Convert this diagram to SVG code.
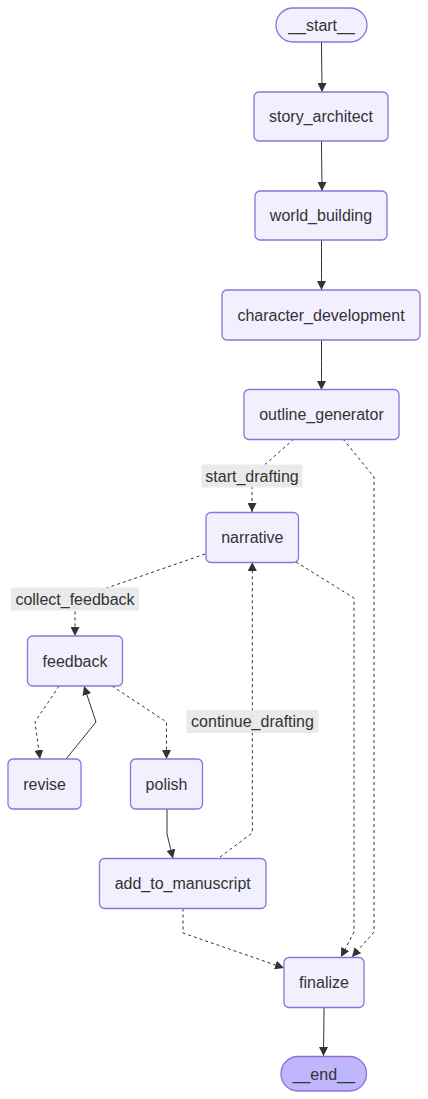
<svg xmlns="http://www.w3.org/2000/svg" width="428" height="1099" viewBox="0 0 428 1099">
  <defs>
    <marker id="arrow" viewBox="0 0 10 10" refX="10" refY="5" markerWidth="9" markerHeight="9" markerUnits="userSpaceOnUse" orient="auto">
      <path d="M0,0 L10,5 L0,10 z" fill="#333333"/>
    </marker>
    <style>
      .node rect { fill: #f2f0ff; stroke: #9370db; stroke-width: 1.3; }
      .node.terminal rect { fill: #f2f0ff; }
      .node.end rect { fill: #bfb6fc; }
      .node text, .label text { font-family: "Liberation Sans", Arial, sans-serif; font-size: 16px; fill: #333333; text-anchor: middle; dominant-baseline: central; }
      .edge { fill: none; stroke: #333333; stroke-width: 1; marker-end: url(#arrow); }
      .edge.dashed { stroke-dasharray: 3 3; }
      .label rect { fill: #e8e8e8; opacity: 0.9; }
    </style>
  </defs>
  <rect width="428" height="1099" fill="#ffffff"/>

  <!-- connectors -->
  <g id="edges">
    <path class="edge" d="M321.5,42 C321.5,60 322,75 322,92"/>
    <path class="edge" d="M321.5,141 C321.5,160 322,175 322,191"/>
    <path class="edge" d="M321.5,240 C321.5,260 321.5,275 321.5,290"/>
    <path class="edge" d="M321.5,340 C321.5,360 321.5,375 321.5,390"/>
    <!-- outline_generator -> narrative -->
    <path class="edge dashed" d="M294,439 L252,476 L252,512"/>
    <!-- outline_generator -> finalize -->
    <path class="edge dashed" d="M343,439 L374,477 L374,932 L352,957"/>
    <!-- narrative -> finalize -->
    <path class="edge dashed" d="M296,562 L354,598 L354,932 L341,957"/>
    <!-- narrative -> feedback -->
    <path class="edge dashed" d="M205,554 L75,599 L75,636"/>
    <!-- feedback -> revise -->
    <path class="edge dashed" d="M59,686 L35,722 L40,759"/>
    <!-- revise -> feedback -->
    <path class="edge" d="M66,759 L96,722 L84,686"/>
    <!-- feedback -> polish -->
    <path class="edge dashed" d="M112,686 L166.5,722 L166.5,759"/>
    <!-- polish -> add_to_manuscript -->
    <path class="edge" d="M167,809 L167,834 L173,858.5"/>
    <!-- add_to_manuscript -> narrative -->
    <path class="edge dashed" d="M220,857 L252.3,833 L252.3,562"/>
    <!-- add_to_manuscript -> finalize -->
    <path class="edge dashed" d="M183,908.5 L183,933 L284,968"/>
    <!-- finalize -> __end__ -->
    <path class="edge" d="M324,1007.5 C324,1025 323.5,1040 323.5,1056"/>
  </g>

  <!-- edge labels -->
  <g id="label-start_drafting" class="label">
    <rect x="201.5" y="464.5" width="101" height="23"/>
    <text x="252" y="476">start_drafting</text>
  </g>
  <g id="label-collect_feedback" class="label">
    <rect x="11" y="587.5" width="128" height="23"/>
    <text x="75" y="599">collect_feedback</text>
  </g>
  <g id="label-continue_drafting" class="label">
    <rect x="186.5" y="710" width="132" height="23"/>
    <text x="252.5" y="721.5">continue_drafting</text>
  </g>

  <!-- nodes -->
  <g id="node-start" class="node terminal">
    <rect x="276" y="8" width="91" height="34" rx="17" ry="17"/>
    <text x="321.5" y="25">__start__</text>
  </g>
  <g id="node-story_architect" class="node">
    <rect x="254" y="92" width="134" height="49" rx="5" ry="5"/>
    <text x="321" y="116.5">story_architect</text>
  </g>
  <g id="node-world_building" class="node">
    <rect x="255" y="191" width="132" height="49" rx="5" ry="5"/>
    <text x="321" y="215.5">world_building</text>
  </g>
  <g id="node-character_development" class="node">
    <rect x="222" y="290" width="198" height="50" rx="5" ry="5"/>
    <text x="321" y="315">character_development</text>
  </g>
  <g id="node-outline_generator" class="node">
    <rect x="244" y="389.5" width="155" height="50" rx="5" ry="5"/>
    <text x="321.5" y="414.5">outline_generator</text>
  </g>
  <g id="node-narrative" class="node">
    <rect x="206" y="512.5" width="92.5" height="50" rx="5" ry="5"/>
    <text x="252.3" y="537.5">narrative</text>
  </g>
  <g id="node-feedback" class="node">
    <rect x="27.5" y="636" width="95" height="50" rx="5" ry="5"/>
    <text x="75" y="661">feedback</text>
  </g>
  <g id="node-revise" class="node">
    <rect x="8" y="759" width="73" height="50" rx="5" ry="5"/>
    <text x="44.5" y="784">revise</text>
  </g>
  <g id="node-polish" class="node">
    <rect x="130.5" y="759" width="72" height="50" rx="5" ry="5"/>
    <text x="166.5" y="784">polish</text>
  </g>
  <g id="node-add_to_manuscript" class="node">
    <rect x="99.5" y="858.5" width="166.5" height="50" rx="5" ry="5"/>
    <text x="182.7" y="883.5">add_to_manuscript</text>
  </g>
  <g id="node-finalize" class="node">
    <rect x="284" y="957.5" width="80" height="50" rx="5" ry="5"/>
    <text x="324" y="982.5">finalize</text>
  </g>
  <g id="node-end" class="node end">
    <rect x="281" y="1056.5" width="85.5" height="34.5" rx="17" ry="17"/>
    <text x="323.7" y="1074">__end__</text>
  </g>
</svg>
